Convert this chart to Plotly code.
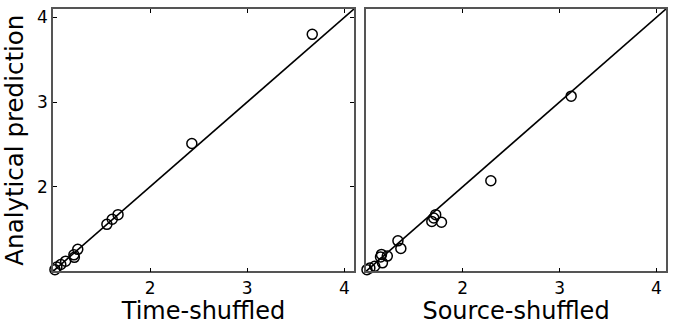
import plotly.graph_objects as go

# Time-shuffled panel
time_x = [3.67, 2.43, 1.67, 1.61, 1.555, 1.255, 1.215, 1.22, 1.13, 1.08, 1.04, 1.02]
time_y = [3.80, 2.51, 1.67, 1.615, 1.555, 1.26, 1.195, 1.165, 1.12, 1.08, 1.05, 1.02]

# Source-shuffled panel
src_x = [3.12, 2.29, 1.72, 1.70, 1.68, 1.78, 1.33, 1.36, 1.22, 1.16, 1.15, 1.17, 1.09, 1.04, 1.01]
src_y = [3.07, 2.07, 1.67, 1.63, 1.59, 1.58, 1.36, 1.27, 1.18, 1.20, 1.17, 1.10, 1.06, 1.04, 1.02]

diag = [1.0, 4.1]
tick_vals = [2, 3, 4]
x_titles = ["Time-shuffled", "Source-shuffled"]
y_title = "Analytical prediction"

FONT = "DejaVu Sans"
FRAME = "#555555"

fig = go.Figure()
for i, (xs, ys) in enumerate([(time_x, time_y), (src_x, src_y)]):
    xa = "x" if i == 0 else "x2"
    ya = "y" if i == 0 else "y2"
    fig.add_trace(go.Scatter(x=diag, y=diag, mode="lines",
                             line=dict(color="black", width=1.6),
                             xaxis=xa, yaxis=ya, showlegend=False, hoverinfo="skip"))
    fig.add_trace(go.Scatter(x=xs, y=ys, mode="markers",
                             marker=dict(symbol="circle-open", size=10, color="black",
                                         line=dict(width=1.5, color="black")),
                             xaxis=xa, yaxis=ya, showlegend=False, cliponaxis=False))

W, H = 678, 325
dom_y = [(H - 271) / H, (H - 7) / H]
common_x = dict(range=[1.0, 4.1], tickvals=tick_vals, ticks="inside", ticklen=4,
                tickwidth=1, tickcolor="black", showline=True, linecolor=FRAME,
                linewidth=1.6, mirror="ticks", showgrid=False, zeroline=False,
                tickfont=dict(family=FONT, size=17, color="black"))
common_y = dict(range=[1.0, 4.1], tickvals=tick_vals, showline=True, linecolor=FRAME,
                linewidth=1.6, showgrid=False, zeroline=False, domain=dom_y,
                tickfont=dict(family=FONT, size=17, color="black"))

fig.update_layout(
    width=W, height=H, margin=dict(l=0, r=0, t=0, b=0),
    plot_bgcolor="white", paper_bgcolor="white",
    xaxis=dict(domain=[53 / W, 354 / W], anchor="y",
               title=dict(text=x_titles[0], font=dict(family=FONT, size=24, color="black"), standoff=6),
               **common_x),
    xaxis2=dict(domain=[366 / W, 666 / W], anchor="y2",
                title=dict(text=x_titles[1], font=dict(family=FONT, size=24, color="black"), standoff=6),
                **common_x),
    yaxis=dict(anchor="x", ticks="inside", ticklen=4, tickwidth=1, tickcolor="black",
               mirror="ticks",
               title=dict(text=y_title, font=dict(family=FONT, size=24.5, color="black"), standoff=6),
               **common_y),
    yaxis2=dict(anchor="x2", ticks="", mirror=True, showticklabels=False, **common_y),
)

fig.write_html("out.html")
